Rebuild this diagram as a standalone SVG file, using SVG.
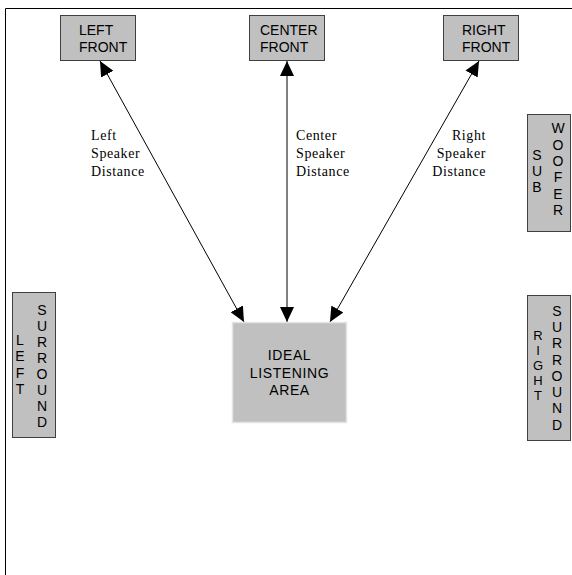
<svg xmlns="http://www.w3.org/2000/svg" width="572" height="575" viewBox="0 0 572 575">
<style>
.box{fill:#c0c0c0;stroke:#404040;stroke-width:1}
.ideal{fill:#c0c0c0;stroke:#e4e4e4;stroke-width:1.5}
.lbl{font-family:"Liberation Sans",Arial,sans-serif;font-size:14px;fill:#000}
.vl{font-family:"Liberation Sans",Arial,sans-serif;font-size:14px;fill:#000;text-anchor:middle}
.vs{font-size:13px}
.dist{font-family:"Liberation Serif","Times New Roman",serif;font-size:14px;fill:#000;letter-spacing:0.6px}
.conn{stroke:#000;stroke-width:1;fill:none;marker-start:url(#ah);marker-end:url(#ah)}
.frame{stroke:#000;stroke-width:1;fill:none}
</style>
<defs>
<marker id="ah" markerUnits="userSpaceOnUse" markerWidth="16" markerHeight="14" refX="15" refY="7" orient="auto-start-reverse">
<path d="M0,0 L15,7 L0,14 z" fill="#000"/>
</marker>
</defs>
<rect width="572" height="575" fill="#fff"/>
<path class="frame" d="M5.5,575 V8.5 H572"/>
<g id="connectors">
<line class="conn" x1="100" y1="61" x2="244" y2="322"/>
<line class="conn" x1="287" y1="61" x2="287" y2="322"/>
<line class="conn" x1="479" y1="61" x2="330" y2="322"/>
</g>
<g id="left-front">
<rect class="box" x="60.5" y="15.5" width="75" height="45"/>
<text class="lbl" x="79" y="35">LEFT</text>
<text class="lbl" x="79" y="52">FRONT</text>
</g>
<g id="center-front">
<rect class="box" x="249.5" y="15.5" width="75" height="45"/>
<text class="lbl" x="260" y="35">CENTER</text>
<text class="lbl" x="260" y="52">FRONT</text>
</g>
<g id="right-front">
<rect class="box" x="443.5" y="15.5" width="75" height="45"/>
<text class="lbl" x="462" y="35">RIGHT</text>
<text class="lbl" x="462" y="52">FRONT</text>
</g>
<g id="sub-woofer">
<rect class="box" x="527.5" y="114.5" width="43" height="117"/>
<text class="vl" x="537" y="160">S</text>
<text class="vl" x="537" y="176">U</text>
<text class="vl" x="537" y="192">B</text>
<text class="vl" x="558" y="133">W</text>
<text class="vl" x="558" y="150">O</text>
<text class="vl" x="558" y="166">O</text>
<text class="vl" x="558" y="182">F</text>
<text class="vl" x="558" y="199">E</text>
<text class="vl" x="558" y="215">R</text>
</g>
<g id="left-surround">
<rect class="box" x="12.5" y="292.5" width="43" height="145"/>
<text class="vl" x="20" y="345">L</text>
<text class="vl" x="20" y="361">E</text>
<text class="vl" x="20" y="378">F</text>
<text class="vl" x="20" y="394">T</text>
<text class="vl" x="42" y="315">S</text>
<text class="vl" x="42" y="331">U</text>
<text class="vl" x="42" y="347">R</text>
<text class="vl" x="42" y="363">R</text>
<text class="vl" x="42" y="379">O</text>
<text class="vl" x="42" y="395">U</text>
<text class="vl" x="42" y="411">N</text>
<text class="vl" x="42" y="427">D</text>
</g>
<g id="right-surround">
<rect class="box" x="527.5" y="295.5" width="43" height="145"/>
<text class="vl vs" x="538" y="340">R</text>
<text class="vl vs" x="538" y="355">I</text>
<text class="vl vs" x="538" y="370">G</text>
<text class="vl vs" x="538" y="385">H</text>
<text class="vl vs" x="538" y="400">T</text>
<text class="vl" x="557" y="316">S</text>
<text class="vl" x="557" y="332">U</text>
<text class="vl" x="557" y="348">R</text>
<text class="vl" x="557" y="365">R</text>
<text class="vl" x="557" y="381">O</text>
<text class="vl" x="557" y="397">U</text>
<text class="vl" x="557" y="413">N</text>
<text class="vl" x="557" y="430">D</text>
</g>
<g id="ideal-listening-area">
<rect class="ideal" x="232.5" y="322.5" width="114" height="100"/>
<text class="vl" x="289.5" y="360" style="letter-spacing:0.6px">IDEAL</text>
<text class="vl" x="289.5" y="378" style="letter-spacing:0.6px">LISTENING</text>
<text class="vl" x="289.5" y="395" style="letter-spacing:0.6px">AREA</text>
</g>
<g id="labels">
<text class="dist" x="91" y="140">Left</text>
<text class="dist" x="91" y="158">Speaker</text>
<text class="dist" x="91" y="176">Distance</text>
<text class="dist" x="296" y="140">Center</text>
<text class="dist" x="296" y="158">Speaker</text>
<text class="dist" x="296" y="176">Distance</text>
<text class="dist" x="486" y="140" text-anchor="end">Right</text>
<text class="dist" x="486" y="158" text-anchor="end">Speaker</text>
<text class="dist" x="486" y="176" text-anchor="end">Distance</text>
</g>
</svg>
